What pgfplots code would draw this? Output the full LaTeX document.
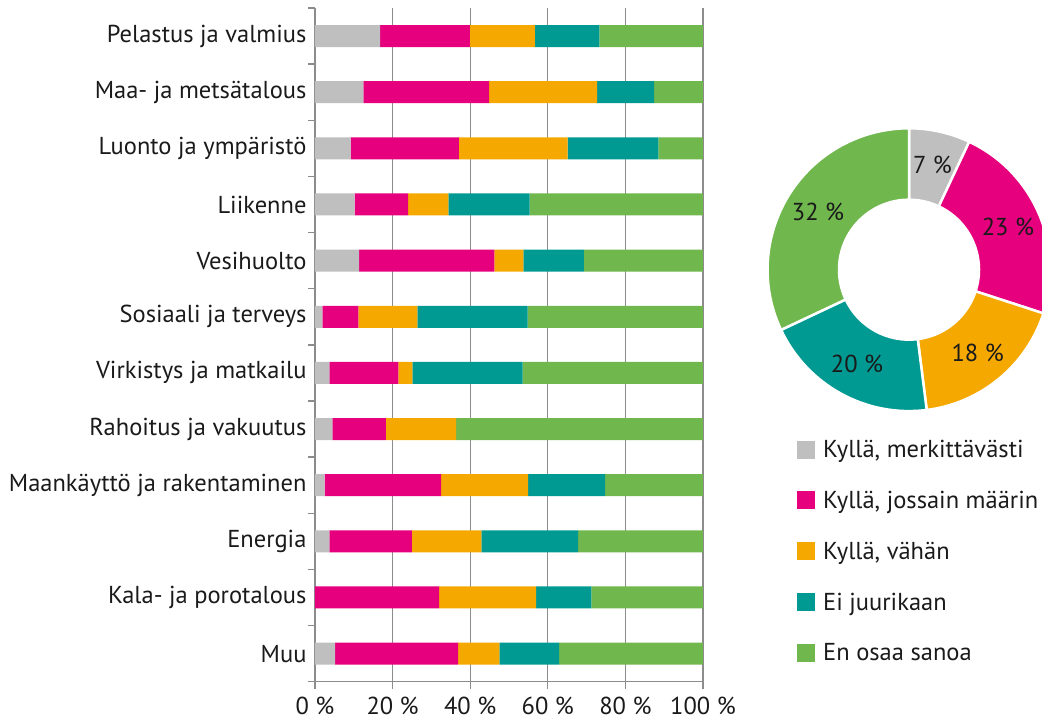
\documentclass[border=0pt]{standalone}
\usepackage{pgfplots}
\pgfplotsset{compat=1.18}
\usepackage{pgfplotstable}
\usepackage{fontspec}
\setmainfont{PT Sans}
\definecolor{cgray}{HTML}{BFBFBF}
\definecolor{cmag}{HTML}{E6007E}
\definecolor{corange}{HTML}{F5A800}
\definecolor{cteal}{HTML}{009A93}
\definecolor{cgreen}{HTML}{70B74D}
\definecolor{gridgray}{HTML}{8C8C8C}
\definecolor{txt}{HTML}{1A1A1A}
\newcommand\lbl{\fontsize{24.5}{28}\selectfont}

\pgfplotstableread{
cat a b c d e
0 16.8 23.1 16.8 16.6 26.7
1 12.5 32.4 27.8 14.7 12.6
2 9.2 27.9 28.0 23.4 11.5
3 10.2 13.8 10.4 20.9 44.7
4 11.4 34.8 7.5 15.6 30.7
5 1.9 9.3 15.2 28.4 45.2
6 3.7 17.8 3.6 28.4 46.5
7 4.5 13.8 18.1 0 63.6
8 2.5 30.0 22.4 19.9 25.2
9 3.7 21.3 17.9 24.9 32.2
10 0 32.0 25.0 14.2 28.8
11 5.2 31.7 10.6 15.4 37.1
}\data

\newcommand\donutwedge[3]{%
  \filldraw[#3, draw=white, line width=2.5pt]
    ({1.01*cos(90-3.6*#1)},{1.01*sin(90-3.6*#1)})
    arc[start angle={90-3.6*#1}, end angle={90-3.6*#2}, radius=1.01]
    -- ({0.5*cos(90-3.6*#2)},{0.5*sin(90-3.6*#2)})
    arc[start angle={90-3.6*#2}, end angle={90-3.6*#1}, radius=0.5]
    -- cycle;}
\newcommand\donutlabel[2]{%
  \node[font=\lbl, text=txt] at ({0.77*cos(90-3.6*#1)},{0.77*sin(90-3.6*#1)}) {#2};}

\begin{document}
\begin{tikzpicture}
\useasboundingbox (-315pt,-40.3pt) rectangle (727pt,681.7pt);
\begin{axis}[
  at={(0pt,0pt)}, anchor=south west,
  scale only axis, width=388pt, height=673.7pt,
  xbar stacked, bar width=22pt,
  xmin=0, xmax=100, ymin=-0.5, ymax=11.5, y dir=reverse,
  xtick={0,20,...,100},
  xticklabel={\pgfmathprintnumber{\tick}~\%},
  /pgf/number format/assume math mode=true,
  ytick={-0.5,0.5,...,11.5},
  yticklabels={},
  extra y ticks={0,1,...,11},
  extra y tick labels={Pelastus ja valmius,Maa- ja metsätalous,Luonto ja ympäristö,Liikenne,Vesihuolto,Sosiaali ja terveys,Virkistys ja matkailu,Rahoitus ja vakuutus,Maankäyttö ja rakentaminen,Energia,Kala- ja porotalous,Muu},
  extra y tick style={major tick length=0pt, yticklabel style={xshift=-5pt}},
  axis x line*=bottom, axis y line*=left,
  axis line style={gridgray, line width=1.3pt, -},
  tick style={gridgray, line width=1.3pt},
  tick align=outside, major tick length=7pt,
  xmajorgrids, ymajorgrids=false,
  major grid style={gridgray, line width=1.3pt},
  tick label style={font=\lbl, text=txt},
  xticklabel style={yshift=-5pt},
  legend style={draw=none, fill=none, at={(1.2423,0.3617)}, anchor=north west,
    font=\lbl, text=txt, row sep=28pt, column sep=6pt, inner sep=0pt, cells={anchor=west}},
  legend image code/.code={\fill[#1] (0pt,-9pt) rectangle (18pt,9pt);},
]
\addplot[fill=cgray, draw=none] table[x=a, y=cat] {\data};
\addplot[fill=cmag, draw=none] table[x=b, y=cat] {\data};
\addplot[fill=corange, draw=none] table[x=c, y=cat] {\data};
\addplot[fill=cteal, draw=none] table[x=d, y=cat] {\data};
\addplot[fill=cgreen, draw=none] table[x=e, y=cat] {\data};
\legend{{Kyllä, merkittävästi},{Kyllä, jossain määrin},{Kyllä, vähän},Ei juurikaan,En osaa sanoa}
\end{axis}
\begin{axis}[
  at={(594pt,412pt)}, anchor=center,
  scale only axis, width=308pt, height=308pt,
  xmin=-1.1, xmax=1.1, ymin=-1.1, ymax=1.1,
  hide axis, clip=false,
]
\donutwedge{0}{7}{cgray}
\donutwedge{7}{30}{cmag}
\donutwedge{30}{48}{corange}
\donutwedge{48}{68}{cteal}
\donutwedge{68}{100}{cgreen}
\donutlabel{3.5}{7 \%}
\donutlabel{18.5}{23 \%}
\donutlabel{39}{18 \%}
\donutlabel{58}{20 \%}
\donutlabel{84}{32 \%}
\end{axis}
\end{tikzpicture}
\end{document}
